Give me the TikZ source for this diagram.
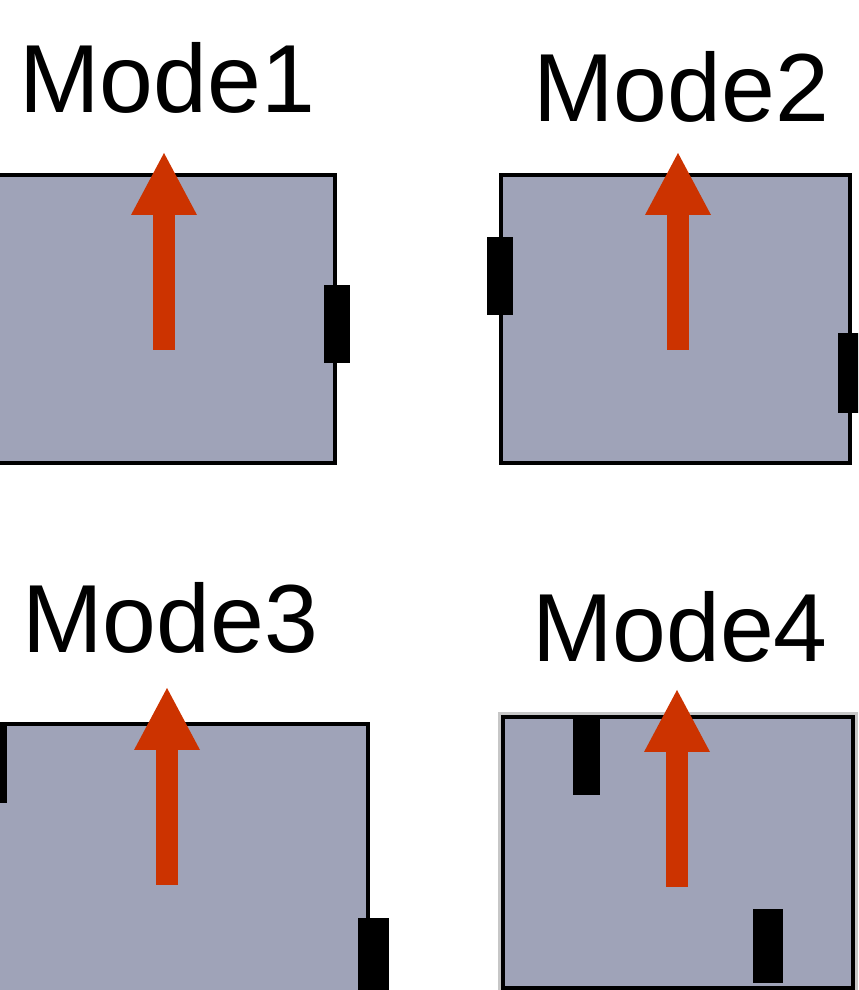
\documentclass[tikz,border=0pt]{standalone}
\usepackage{fontspec}
\setmainfont{Liberation Sans}
\usepackage{tikz}
\usetikzlibrary{arrows.meta, positioning}

\definecolor{boxgray}{RGB}{159,163,184}
\definecolor{arrowred}{RGB}{204,51,0}

\begin{document}
\begin{tikzpicture}[inner sep=0pt,outer sep=0pt]
	\tikzset{box/.style={rectangle, draw=black, fill=boxgray, line width=0.1cm},
		tab/.style={rectangle, fill=black, minimum width=0.65cm, minimum height=1.95cm},
		dir/.style={arrowred, line width=0.55cm, -{Triangle[width=1.65cm,length=1.55cm,line width=0pt]}},
		modelabel/.style={anchor=base west, font=\fontsize{68.8}{80}\selectfont}}
	\useasboundingbox (0,0) rectangle (21.45,24.75);
	\clip (0,0) rectangle (21.45,24.75);
	% mode 1
	\node[modelabel] (m1) at (0.48,21.925) {Mode1};
	\node[box, minimum width=8.63cm, minimum height=7.2cm] (box1) at (4.06,16.775) {};
	\node[tab] (t1) at (8.425,16.65) {};
	\coordinate (a1s) at (4.1,16.0);
	\coordinate (a1e) at (4.1,20.925);
	\draw[dir] (a1s) -- (a1e);
	% mode 2
	\node[modelabel] (m2) at (13.33,21.7) {Mode2};
	\node[box, minimum width=8.725cm, minimum height=7.2cm] (box2) at (16.89,16.775) {};
	\node[tab] (t2a) at (12.5,17.85) {};
	\node[tab, minimum height=2cm] (t2b) at (21.275,15.425) {};
	\coordinate (a2s) at (16.95,16.0);
	\coordinate (a2e) at (16.95,20.925);
	\draw[dir] (a2s) -- (a2e);
	% mode 3
	\node[modelabel] (m3) at (0.56,8.425) {Mode3};
	\node[box, minimum width=9.35cm, minimum height=6.9cm] (box3) at (4.525,3.2) {};
	\node[tab, minimum height=1.975cm] (t3a) at (-0.15,5.6625) {};
	\node[tab, minimum width=0.775cm, minimum height=2cm] (t3b) at (9.3375,0.8) {};
	\coordinate (a3s) at (4.175,2.625);
	\coordinate (a3e) at (4.175,7.55);
	\draw[dir] (a3s) -- (a3e);
	% mode 4
	\node[modelabel] (m4) at (13.3,8.2) {Mode4};
	\node[box, preaction={draw=black!22, line width=0.26cm}, minimum width=8.75cm, minimum height=6.775cm] (box4) at (16.95,3.4375) {};
	\node[tab, minimum width=0.675cm] (t4a) at (14.6625,5.85) {};
	\node[tab, minimum width=0.75cm, minimum height=1.85cm] (t4b) at (19.2,1.1) {};
	\coordinate (a4s) at (16.925,2.575);
	\coordinate (a4e) at (16.925,7.5);
	\draw[dir] (a4s) -- (a4e);
\end{tikzpicture}
\end{document}
